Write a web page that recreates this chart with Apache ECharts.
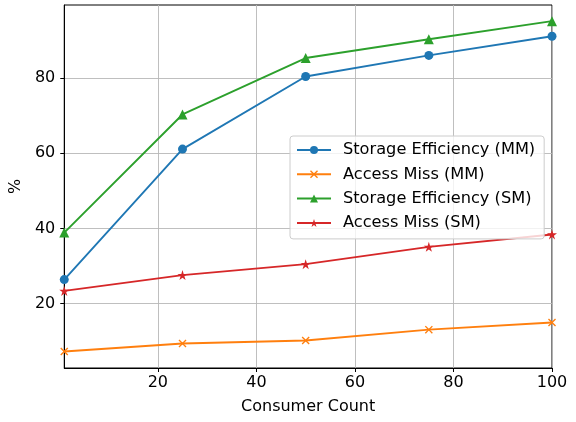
<!DOCTYPE html>
<html>
<head>
<meta charset="utf-8">
<script src="https://cdn.jsdelivr.net/npm/echarts@6/dist/echarts.min.js"></script>
<style>html,body{margin:0;padding:0;background:#fff}#c{width:576px;height:422px}</style>
</head>
<body>
<div id="c"></div>
<script>
const consumers = [1, 25, 50, 75, 100];
const storageEffMM = [26.4, 61.1, 80.4, 86.0, 91.1];
const accessMissMM = [7.3, 9.4, 10.2, 13.1, 15.0];
const storageEffSM = [38.9, 70.3, 85.3, 90.3, 95.1];
const accessMissSM = [23.4, 27.6, 30.5, 35.1, 38.4];
const xTicks = [20, 40, 60, 80, 100];
const yTicks = [20, 40, 60, 80];

const X_PATH = 'path://M0,1.2 L1.2,0 L5,3.8 L8.8,0 L10,1.2 L6.2,5 L10,8.8 L8.8,10 L5,6.2 L1.2,10 L0,8.8 L3.8,5 Z';
const STAR_PATH = 'path://M50,0 L61.2,34.5 L97.6,34.5 L68.2,55.9 L79.4,90.5 L50,69.1 L20.6,90.5 L31.8,55.9 L2.4,34.5 L38.8,34.5 Z';

const pairs = arr => consumers.map((c, i) => [c, arr[i]]);
const font = 'DejaVu Sans';
const FS = 16;

function mkSeries(name, data, color, symbol, size) {
  return {
    name, type: 'line', data: pairs(data),
    symbol, symbolSize: size,
    lineStyle: { color, width: 1.9 },
    itemStyle: { color },
    emphasis: { disabled: true },
    animation: false
  };
}

const chart = echarts.init(document.getElementById('c'), null, { renderer: 'canvas' });
chart.setOption({
  animation: false,
  color: ['#1f77b4', '#ff7f0e', '#2ca02c', '#d62728'],
  grid: { left: 64, right: 24, top: 5, bottom: 54, show: true, borderColor: '#000', borderWidth: 1, containLabel: false },
  xAxis: {
    type: 'value', min: 1, max: 100,
    name: 'Consumer Count', nameLocation: 'middle', nameGap: 31,
    nameTextStyle: { fontFamily: font, fontSize: FS, color: '#000' },
    axisLine: { lineStyle: { color: '#000', width: 1 } },
    axisTick: { show: true, length: 4, lineStyle: { color: '#000' }, customValues: xTicks },
    axisLabel: { fontFamily: font, fontSize: FS, color: '#000', margin: 7, customValues: xTicks },
    splitLine: { show: true, lineStyle: { color: '#b8b8b8', width: 0.9 } }
  },
  yAxis: {
    type: 'value', min: 2.9, max: 99.4,
    name: '%', nameLocation: 'middle', nameGap: 39, nameRotate: 90,
    nameTextStyle: { fontFamily: font, fontSize: FS, color: '#000' },
    axisLine: { show: true, lineStyle: { color: '#000', width: 1 } },
    axisTick: { show: true, length: 4, lineStyle: { color: '#000' }, customValues: yTicks },
    axisLabel: { fontFamily: font, fontSize: FS, color: '#000', margin: 9, customValues: yTicks },
    splitLine: { show: true, lineStyle: { color: '#b8b8b8', width: 0.9 } }
  },
  legend: {
    orient: 'vertical', left: 290, top: 136,
    backgroundColor: 'rgba(255,255,255,0.8)', borderColor: '#cccccc', borderWidth: 1, borderRadius: 3,
    padding: [6, 9, 8, 6],
    itemWidth: 34, itemHeight: 10, itemGap: 8.3,
    textStyle: { fontFamily: font, fontSize: 16.2, color: '#000', padding: [0, 0, 0, 7] },
    data: ['Storage Efficiency (MM)', 'Access Miss (MM)', 'Storage Efficiency (SM)', 'Access Miss (SM)']
  },
  series: [
    mkSeries('Storage Efficiency (MM)', storageEffMM, '#1f77b4', 'circle', 9),
    mkSeries('Access Miss (MM)', accessMissMM, '#ff7f0e', X_PATH, 8),
    mkSeries('Storage Efficiency (SM)', storageEffSM, '#2ca02c', 'triangle', 10),
    mkSeries('Access Miss (SM)', accessMissSM, '#d62728', STAR_PATH, 10)
  ]
});
</script>
</body>
</html>
